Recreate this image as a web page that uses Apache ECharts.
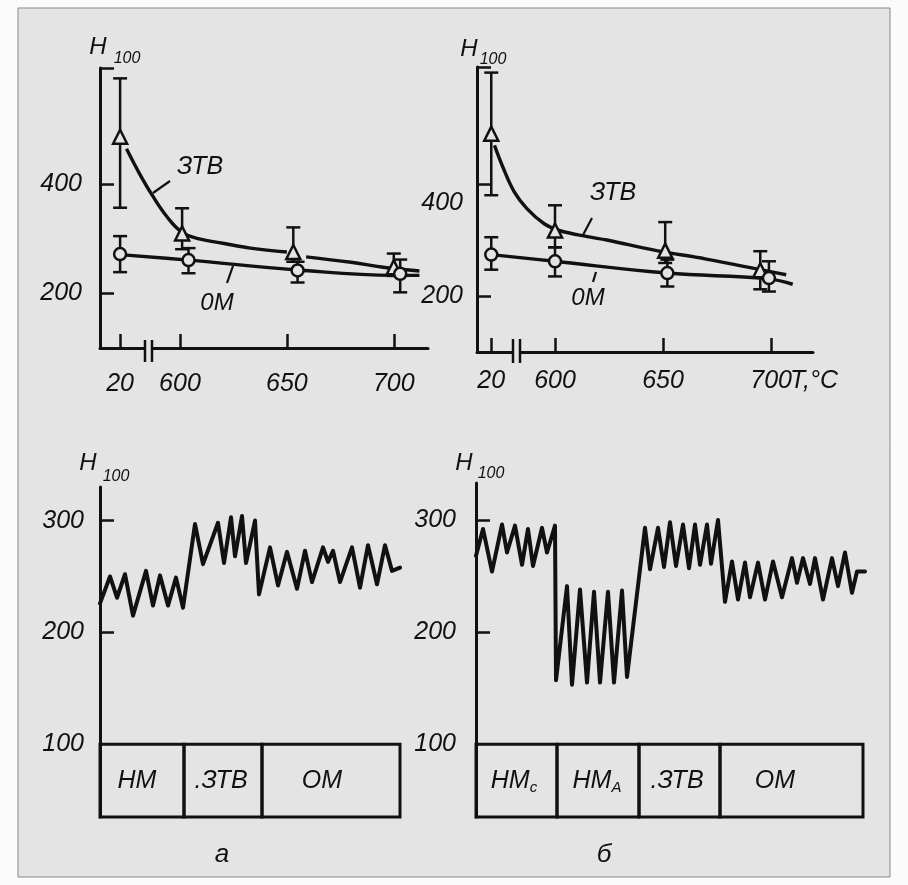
<!DOCTYPE html>
<html>
<head>
<meta charset="utf-8">
<script src="https://cdn.jsdelivr.net/npm/echarts@6/dist/echarts.min.js"></script>
<style>
  html, body { margin: 0; padding: 0; background: #fff; }
  #main { width: 908px; height: 885px; }
</style>
</head>
<body>
<div id="main"></div>
<script>
// ---- top panels: hardness H100 vs tempering temperature, °C ----
// 20 °C sits left of the axis break, so it is drawn at a fixed place on the axis
const lowPosA = 572, lowPosB = 570.5;
const tempTicks = [600, 650, 700];

// panel а (top left)
const ztvTempA = [20, 601, 653, 700];
const ztvA     = [487, 310, 276, 248];
const ztvLoA   = [357, 281, 258, 232];
const ztvHiA   = [594, 356, 321, 273];
const omTempA  = [20, 604, 655, 703];
const omA      = [272, 261, 242, 236];
const omLoA    = [239, 237, 220, 202];
const omHiA    = [305, 283, 258, 262];
// fitted curves read along the axis (break included)
const ztvCurveA = [[575, 465], [581, 420], [587, 380], [594, 340], [601, 312], [609, 300], [620, 292], [633, 283], [650, 276],
                   null, [659, 267], [680, 257], [695, 248], [712, 241]];
const omCurveA  = [[572, 271], [604, 261], [655, 243], [700, 233], [712, 233]];

// panel б (top right)
const ztvTempB = [20, 600, 651, 695];
const ztvB     = [490, 317, 281, 246];
const ztvLoB   = [380, 287, 259, 212];
const ztvHiB   = [599, 362, 332, 280];
const omTempB  = [20, 600, 652, 699];
const omB      = [274, 262, 241, 232];
const omLoB    = [247, 235, 217, 208];
const omHiB    = [305, 287, 265, 262];
const ztvCurveB = [[572, 469], [576, 429], [581, 387], [587, 356], [595, 329], [602, 317], [615, 306], [624, 300],
                   [647, 281], [670, 266], [707, 238]];
const omCurveB  = [[570.5, 274], [600, 262], [652, 241], [698, 231], [710, 221]];

// ---- bottom panels: hardness profile across the joint (distance in arbitrary units) ----
const profileA = [[0, 226], [10, 250], [17, 231], [25, 252], [33, 215], [46, 255], [53, 224], [60, 251], [68, 224], [76, 249], [83, 222],
  [95, 297], [103, 261], [118, 298], [124, 262], [131, 303], [135, 268], [142, 304], [146, 262], [155, 300], [159, 234],
  [170, 276], [178, 242], [187, 272], [197, 239], [205, 273], [212, 245], [223, 276], [228, 263], [233, 273], [240, 245],
  [252, 276], [260, 240], [268, 278], [277, 243], [285, 278], [292, 255], [300, 258]];
const zonesA = ['НМ', '.ЗТВ', 'ОМ'];
const zoneEdgesA = [0, 84, 162, 300];
const zoneLabelAtA = [37, 121, 222];

const profileB = [[0, 268], [7, 292], [16, 254], [26, 296], [31, 271], [39, 295], [46, 260], [52, 292], [57, 259], [66, 293], [71, 271], [79, 295],
  [80, 157], [91, 241], [96, 153], [104, 238], [111, 155], [118, 236], [124, 155], [132, 236], [138, 155], [146, 237], [151, 160],
  [169, 293], [174, 256], [182, 293], [188, 258], [194, 298], [200, 259], [207, 296], [213, 257], [219, 296], [224, 260],
  [231, 296], [235, 261], [242, 300],
  [249, 227], [256, 263], [262, 229], [269, 262], [274, 231], [282, 262], [289, 229], [297, 263], [306, 231], [316, 266],
  [321, 244], [327, 266], [334, 243], [339, 266], [347, 229], [356, 266], [362, 241], [369, 271], [376, 235], [381, 254], [389, 254]];
const zonesB = ['{m|НМ}{s|c}', '{m|НМ}{s|A}', '.ЗТВ', 'ОМ'];
const zoneEdgesB = [0, 81, 163, 244, 387];
const zoneLabelAtB = [38, 121, 201, 299];

const INK = '#111';
const BG = '#e4e4e4';
const FONT = '"Liberation Sans", Arial, sans-serif';
const boxBottom = 35;

const chart = echarts.init(document.getElementById('main'));

const atBreak = (t, lowPos) => (t < 100 ? lowPos : t);

function topX(gridIndex, min, max, lowPos, margin) {
  const vals = [lowPos].concat(tempTicks);
  return {
    type: 'value', gridIndex, min, max,
    splitLine: { show: false },
    axisLine: { onZero: false, lineStyle: { color: INK, width: 3 } },
    axisTick: { inside: true, length: 14, customValues: vals, lineStyle: { color: INK, width: 2.5 } },
    axisLabel: {
      customValues: vals, margin, color: INK, fontSize: 25, fontStyle: 'italic', fontFamily: FONT,
      formatter: v => (v === lowPos ? '20' : String(v))
    }
  };
}

function leftY(gridIndex, min, max, ticks, labels, margin, formatter) {
  return {
    type: 'value', gridIndex, min, max,
    splitLine: { show: false },
    axisLine: { onZero: false, lineStyle: { color: INK, width: 3 } },
    axisTick: { inside: true, length: 14, customValues: ticks, lineStyle: { color: INK, width: 2.5 } },
    axisLabel: {
      customValues: labels, margin, color: INK, fontSize: 25, fontStyle: 'italic', fontFamily: FONT,
      formatter: formatter || (v => String(v)),
      rich: { low: { fontSize: 25, fontStyle: 'italic', fontFamily: FONT, color: INK, padding: [38, 0, 0, 0] } }
    }
  };
}

function errorBars(axis, temps, lo, hi, lowPos) {
  return {
    type: 'custom', xAxisIndex: axis, yAxisIndex: axis, z: 3,
    data: temps.map((t, i) => [atBreak(t, lowPos), lo[i], hi[i]]),
    renderItem: (params, api) => {
      const a = api.coord([api.value(0), api.value(1)]);
      const b = api.coord([api.value(0), api.value(2)]);
      const st = { stroke: INK, lineWidth: 2.5 };
      return {
        type: 'group', children: [
          { type: 'line', shape: { x1: a[0], y1: a[1], x2: b[0], y2: b[1] }, style: st },
          { type: 'line', shape: { x1: a[0] - 7, y1: a[1], x2: a[0] + 7, y2: a[1] }, style: st },
          { type: 'line', shape: { x1: b[0] - 7, y1: b[1], x2: b[0] + 7, y2: b[1] }, style: st }
        ]
      };
    }
  };
}

function markers(axis, temps, vals, lowPos, symbol, size) {
  return {
    type: 'scatter', xAxisIndex: axis, yAxisIndex: axis, z: 5,
    symbol, symbolSize: size,
    itemStyle: { color: BG, borderColor: INK, borderWidth: 2.5, opacity: 1 },
    data: temps.map((t, i) => [atBreak(t, lowPos), vals[i]])
  };
}

function curve(axis, data) {
  return {
    type: 'line', xAxisIndex: axis, yAxisIndex: axis, z: 2,
    smooth: 0.4, showSymbol: false, connectNulls: false,
    lineStyle: { color: INK, width: 3.4 },
    data
  };
}

function profile(axis, data) {
  return {
    type: 'line', xAxisIndex: axis, yAxisIndex: axis, z: 2,
    showSymbol: false,
    lineStyle: { color: INK, width: 4, join: 'round', cap: 'round' },
    data
  };
}

function zoneBoxes(axis, names, edges, labelAt) {
  return {
    type: 'custom', xAxisIndex: axis, yAxisIndex: axis, z: 3,
    data: names.map((n, i) => [edges[i], edges[i + 1], labelAt[i]]),
    renderItem: (params, api) => {
      const p0 = api.coord([api.value(0), 100]);
      const p1 = api.coord([api.value(1), boxBottom]);
      const lx = api.coord([api.value(2), 100])[0];
      return {
        type: 'group', children: [
          { type: 'rect', shape: { x: p0[0], y: p0[1], width: p1[0] - p0[0], height: p1[1] - p0[1] },
            style: { fill: 'none', stroke: INK, lineWidth: 3 } },
          { type: 'text', style: {
              text: names[params.dataIndex], x: lx, y: (p0[1] + p1[1]) / 2,
              align: 'center', verticalAlign: 'middle',
              fill: INK, fontSize: 25, fontStyle: 'italic', fontFamily: FONT,
              rich: {
                m: { fontSize: 25, fontStyle: 'italic', fontFamily: FONT, fill: INK },
                s: { fontSize: 15, fontStyle: 'italic', fontFamily: FONT, fill: INK, padding: [14, 0, 0, 0] }
              }
            } }
        ]
      };
    }
  };
}

function txt(text, x, y, size, align) {
  return { type: 'text', z: 100, style: {
    text, x, y, fill: INK, fontSize: size, fontStyle: 'italic', fontFamily: FONT,
    align: align || 'center', verticalAlign: 'middle' } };
}
function seg(x1, y1, x2, y2, w, color) {
  return { type: 'line', z: 100, shape: { x1, y1, x2, y2 }, style: { stroke: color || INK, lineWidth: w || 2.2 } };
}
function breakMark(xa, xb, y1, y2, yAxis) {
  return [
    { type: 'rect', z: 100, shape: { x: xa + 1, y: yAxis - 3, width: xb - xa - 2, height: 6 }, style: { fill: BG } },
    seg(xa, y1, xa, y2, 2.5), seg(xb, y1, xb, y2, 2.5)
  ];
}

const option = {
  backgroundColor: '#fbfbfb',
  animation: false,
  grid: [
    { left: 100, top: 68, width: 328, height: 280 },
    { left: 477, top: 67, width: 336, height: 285 },
    { left: 100, top: 487, width: 300, height: 330 },
    { left: 476, top: 483, width: 389, height: 334 }
  ],
  xAxis: [
    topX(0, 562.6, 716, lowPosA, 24),
    topX(1, 563.9, 719.4, lowPosB, 17),
    { type: 'value', gridIndex: 2, min: 0, max: 300, show: false },
    { type: 'value', gridIndex: 3, min: 0, max: 389, show: false }
  ],
  yAxis: [
    leftY(0, 100, 613, [200, 400, 613], [200, 400], 18),
    leftY(1, 100, 609, [200, 400, 609], [200, 400], 14, v => (v === 400 ? '{low|400}' : String(v))),
    leftY(2, boxBottom, 330, [200, 300], [100, 200, 300], 16),
    leftY(3, boxBottom, 333, [200, 300], [100, 200, 300], 20)
  ],
  series: [
    curve(0, ztvCurveA), curve(0, omCurveA),
    errorBars(0, ztvTempA, ztvLoA, ztvHiA, lowPosA), errorBars(0, omTempA, omLoA, omHiA, lowPosA),
    markers(0, ztvTempA, ztvA, lowPosA, 'triangle', 14), markers(0, omTempA, omA, lowPosA, 'circle', 12),

    curve(1, ztvCurveB), curve(1, omCurveB),
    errorBars(1, ztvTempB, ztvLoB, ztvHiB, lowPosB), errorBars(1, omTempB, omLoB, omHiB, lowPosB),
    markers(1, ztvTempB, ztvB, lowPosB, 'triangle', 14), markers(1, omTempB, omB, lowPosB, 'circle', 12),

    profile(2, profileA), zoneBoxes(2, zonesA, zoneEdgesA, zoneLabelAtA),
    profile(3, profileB), zoneBoxes(3, zonesB, zoneEdgesB, zoneLabelAtB)
  ],
  graphic: [
    { type: 'rect', z: -10, shape: { x: 18, y: 8, width: 872, height: 869 }, style: { fill: BG, stroke: '#888', lineWidth: 1 } },
    // axis titles
    txt('H', 98, 47, 24), txt('100', 127, 59, 16),
    txt('H', 469, 49, 24), txt('100', 493, 60, 16),
    txt('H', 88, 463, 24), txt('100', 116, 477, 16),
    txt('H', 464, 463, 24), txt('100', 491, 474, 16),
    txt('T,°C', 790, 381, 25, 'left'),
    // curve labels with leaders
    txt('ЗТВ', 200, 167, 25), seg(170, 181, 153, 193),
    txt('0М', 217, 303, 24), seg(233, 266, 227, 283),
    txt('ЗТВ', 613, 193, 25), seg(592, 218, 583, 235),
    txt('0М', 588, 298, 24), seg(596, 272, 593, 282),
    // panel letters
    txt('а', 222, 855, 26), txt('б', 604, 855, 26),
    ...breakMark(145, 152, 340, 362, 348),
    ...breakMark(513, 520, 339, 363, 352)
  ]
};

chart.setOption(option);
window.addEventListener('resize', () => chart.resize());
</script>
</body>
</html>
